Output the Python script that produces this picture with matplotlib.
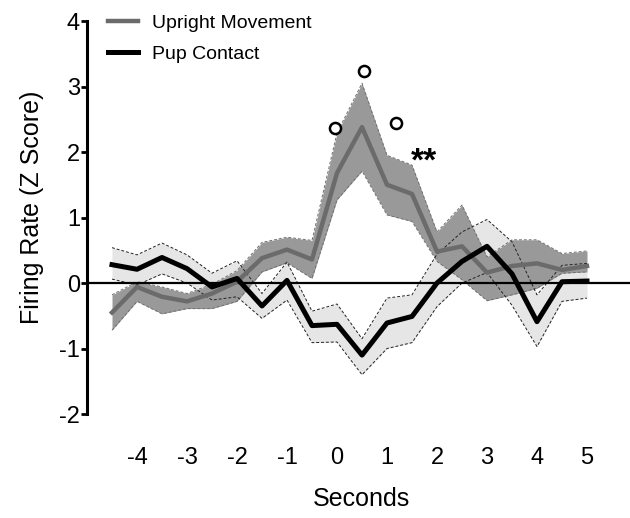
import matplotlib
matplotlib.use("Agg")
import matplotlib.pyplot as plt
import numpy as np

plt.rcParams['font.family'] = ['Liberation Sans', 'DejaVu Sans']

# ---- data ----
seconds = [-4.5, -4, -3.5, -3, -2.5, -2, -1.5, -1, -0.5, 0,
           0.5, 1, 1.5, 2, 2.5, 3, 3.5, 4, 4.5, 5]

upright_mean = [-0.45, -0.06, -0.21, -0.28, -0.16, 0.02, 0.38, 0.51, 0.36, 1.68,
                2.38, 1.50, 1.36, 0.48, 0.56, 0.16, 0.26, 0.30, 0.20, 0.26]
upright_upper = [-0.18, 0.02, -0.06, -0.16, -0.02, 0.19, 0.62, 0.70, 0.65, 2.29,
                 3.05, 1.95, 1.80, 0.78, 1.19, 0.40, 0.66, 0.66, 0.45, 0.49]
upright_lower = [-0.72, -0.28, -0.47, -0.39, -0.39, -0.28, 0.17, 0.31, 0.07, 1.27,
                 1.71, 1.04, 0.94, 0.33, 0.05, -0.27, -0.18, -0.08, 0.15, 0.17]

pup_mean = [0.28, 0.21, 0.39, 0.22, -0.06, 0.07, -0.35, 0.04, -0.65, -0.63,
            -1.10, -0.61, -0.51, 0.00, 0.33, 0.56, 0.14, -0.59, 0.02, 0.03]
pup_upper = [0.54, 0.43, 0.61, 0.43, 0.15, 0.34, -0.16, 0.32, -0.43, -0.32,
             -0.85, -0.23, -0.18, 0.44, 0.78, 0.97, 0.63, -0.18, 0.27, 0.30]
pup_lower = [0.06, -0.03, 0.14, 0.00, -0.26, -0.21, -0.54, -0.26, -0.91, -0.90,
             -1.40, -1.00, -0.91, -0.36, 0.00, 0.16, -0.34, -0.97, -0.28, -0.23]

circle_x = [-0.04, 0.54, 1.18]
circle_y = [2.37, 3.24, 2.45]
stars_x, stars_y, stars_text = 1.74, 1.84, "**"

xticks = [-4, -3, -2, -1, 0, 1, 2, 3, 4, 5]
yticks = [-2, -1, 0, 1, 2, 3, 4]

# ---- figure ----
W, H = 630, 518
fig = plt.figure(figsize=(W / 100, H / 100), dpi=100)
left_px, right_px, top_px, bot_px = 87, 630, 14.45, 420.6
ax = fig.add_axes([left_px / W, 1 - bot_px / H, (right_px - left_px) / W, (bot_px - top_px) / H])

ax.set_xlim(-5, 5.86)
ax.set_ylim(-2.1, 4.1)

# light band for pup contact
ax.fill_between(seconds, pup_lower, pup_upper, color='#e6e6e6', lw=0, zorder=1)
# dark band for upright
ax.fill_between(seconds, upright_lower, upright_upper, color='#999999', lw=0, zorder=2)
ax.plot(seconds, upright_upper, color='#707070', lw=0.7, ls=(0, (3, 2)), zorder=2.5)
ax.plot(seconds, upright_lower, color='#707070', lw=0.7, ls=(0, (3, 2)), zorder=2.5)
# dashed edges of light band
ax.plot(seconds, pup_upper, color='#222222', lw=0.7, ls=(0, (3, 2)), zorder=3)
ax.plot(seconds, pup_lower, color='#222222', lw=0.7, ls=(0, (3, 2)), zorder=3)

ax.axhline(0, color='black', lw=1.6, zorder=3.5)

l1, = ax.plot(seconds, upright_mean, color='#6b6b6b', lw=3.2, zorder=4, label='Upright Movement')
l2, = ax.plot(seconds, pup_mean, color='black', lw=3.6, zorder=5, label='Pup Contact')

ax.plot(circle_x, circle_y, ls='none', marker='o', mfc='white', mec='black', ms=8, mew=1.8, zorder=6)
ax.text(stars_x, stars_y, stars_text, fontsize=24, fontweight='bold', ha='center', va='center', zorder=6)

# axes styling
for s in ['top', 'right', 'bottom']:
    ax.spines[s].set_visible(False)
ax.spines['left'].set_linewidth(2.2)
ax.spines['left'].set_bounds(-2, 4)
ax.set_yticks(yticks)
ax.set_yticklabels([str(v) for v in yticks])
ax.set_xticks(xticks)
ax.set_xticklabels([str(v) for v in xticks])
ax.tick_params(axis='y', length=4, width=2, pad=1, labelsize=17, direction='out')
ax.tick_params(axis='x', length=0, pad=19, labelsize=17)

ax.set_ylabel('Firing Rate (Z Score)', fontsize=18)
ax.yaxis.set_label_coords(-0.08, 0.526)
ax.set_xlabel('Seconds', fontsize=18)
ax.xaxis.set_label_coords(0.506, -0.163)
ax.xaxis.label.set_va('top')

ax.legend(handles=[l1, l2], loc='upper left', bbox_to_anchor=(108 / W, 1 - 14 / H),
          bbox_transform=fig.transFigure, frameon=False, fontsize=14,
          handlelength=1.55, handletextpad=0.7, labelspacing=0.72,
          borderpad=0, borderaxespad=0)

fig.savefig('out.png', dpi=100)
